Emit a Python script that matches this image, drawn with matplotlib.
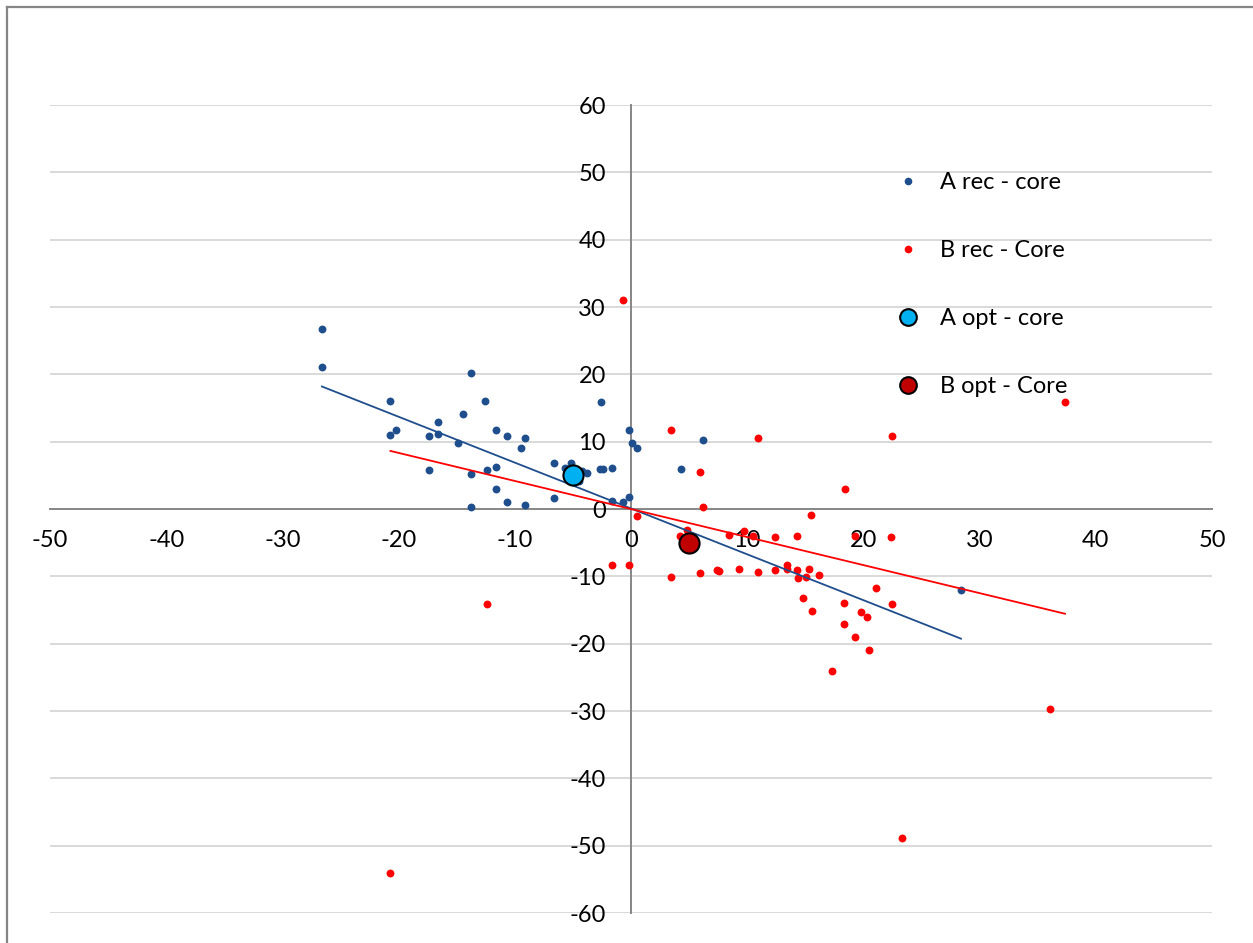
import numpy as np
import matplotlib
matplotlib.use("Agg")
import matplotlib.pyplot as plt
from matplotlib.lines import Line2D

# ---- data ----
a_rec_x = [-26.6, -26.6, -13.8, -20.7, -12.6, -2.6, -14.5, -16.6, -20.2, -20.7,
           -17.4, -16.6, -11.6, -10.7, -9.1, -14.9, -9.5, -0.2, 0.1, 0.5,
           -17.4, -13.8, -12.4, -11.6, -6.6, -5.7, -5.2, -4.25, -3.8, -2.65,
           -2.4, -1.6, -11.6, -6.6, -10.7, -9.1, -13.8, -1.6, -0.7, -0.2,
           6.2, 4.3, 28.4, -4.5, -5.5]
a_rec_y = [26.7, 21.1, 20.2, 16.0, 16.0, 15.9, 14.1, 12.9, 11.8, 11.0,
           10.8, 11.1, 11.7, 10.9, 10.5, 9.85, 9.06, 11.7, 9.85, 9.06,
           5.8, 5.2, 5.8, 6.2, 6.8, 6.1, 6.8, 5.7, 5.3, 5.9,
           5.9, 6.1, 2.9, 1.7, 1.0, 0.55, 0.25, 1.2, 1.1, 1.8,
           10.25, 5.9, -12.1, 4.1, 5.6]

b_rec_x = [-0.7, 3.4, 10.9, 22.5, 5.9, 18.4, 6.2, 0.5, 15.5, 4.8,
           4.2, 8.4, 9.75, 10.5, 12.4, 14.3, 19.3, 22.35, -1.6, -0.2,
           3.4, 5.9, 7.4, 7.6, 9.3, 10.9, 12.4, 13.4, 13.4, 14.3,
           15.35, 16.2, 14.4, 15.06, 14.8, 15.6, 18.36, 21.1, 19.8, 20.3,
           22.5, 18.36, 19.3, 20.45, 17.3, -12.4, -20.7, 36.1, 23.3, 37.35]
b_rec_y = [31.0, 11.7, 10.5, 10.8, 5.55, 2.95, 0.25, -1.0, -0.94, -3.1,
           -4.0, -3.9, -3.25, -3.95, -4.1, -4.0, -3.95, -4.1, -8.25, -8.25,
           -10.1, -9.45, -9.06, -9.16, -8.98, -9.4, -9.06, -8.25, -8.9, -9.06,
           -8.9, -9.8, -10.28, -10.15, -13.2, -15.15, -13.9, -11.75, -15.3, -16.1,
           -14.15, -17.1, -19.0, -21.0, -24.1, -14.1, -54.1, -29.7, -48.9, 15.9]

a_opt_x = [-5.0]
a_opt_y = [5.0]
b_opt_x = [5.0]
b_opt_y = [-5.0]

# trendline coefficients (slope, intercept)
trend_a = [-0.681, 0.08]
trend_b = [-0.4165, 0.0]

series_labels = ["A rec - core", "B rec - Core", "A opt - core", "B opt - Core"]
x_ticks = list(range(-50, 51, 10))
y_ticks = list(range(-60, 61, 10))

# ---- styling ----
C_A = "#1F4E8C"
C_B = "#FF0000"
C_AOPT = "#00B0F0"
C_BOPT = "#C00000"
GRID = "#D9D9D9"
AXIS = "#868686"
FONT = "Lato"
FS = 17

fig = plt.figure(figsize=(12.53, 9.43), dpi=100)
ax = fig.add_axes([50 / 1253, 1 - 913 / 943, (1212 - 50) / 1253, (913 - 105) / 943])
ax.set_xlim(-50, 50)
ax.set_ylim(-60, 60)

for yv in y_ticks:
    if yv != 0:
        ax.axhline(yv, color=GRID, lw=1.4, zorder=0)

for s in ["top", "right"]:
    ax.spines[s].set_visible(False)
ax.spines["left"].set_position(("data", 0))
ax.spines["bottom"].set_position(("data", 0))
for s in ["left", "bottom"]:
    ax.spines[s].set_color(AXIS)
    ax.spines[s].set_linewidth(1.4)
    ax.spines[s].set_zorder(1)

ax.set_xticks(x_ticks)
ax.set_yticks(y_ticks)
ax.set_xticklabels([str(v) for v in x_ticks], fontfamily=FONT, fontsize=FS)
ax.set_yticklabels([str(v) for v in y_ticks], fontfamily=FONT, fontsize=FS)
ax.tick_params(axis="x", length=0, pad=15)
ax.tick_params(axis="y", length=0, pad=18)

ax.scatter(a_rec_x, a_rec_y, s=32, color=C_A, zorder=3, linewidths=0, label=series_labels[0])
ax.scatter(b_rec_x, b_rec_y, s=32, color=C_B, zorder=3, linewidths=0, label=series_labels[1])

# linear trendlines spanning each series' x-range
xa = np.array([min(a_rec_x), max(a_rec_x)])
xb = np.array([min(b_rec_x), max(b_rec_x)])
ax.plot(xa, np.polyval(trend_a, xa), color=C_A, lw=1.3, zorder=4)
ax.plot(xb, np.polyval(trend_b, xb), color=C_B, lw=1.3, zorder=4)

ax.scatter(a_opt_x, a_opt_y, s=210, color=C_AOPT, edgecolors="black", linewidths=1.5, zorder=5,
           label=series_labels[2])
ax.scatter(b_opt_x, b_opt_y, s=210, color=C_BOPT, edgecolors="black", linewidths=1.5, zorder=5,
           label=series_labels[3])

handles = [
    Line2D([], [], marker="o", ls="none", color=C_A, markersize=5.5, markeredgewidth=0),
    Line2D([], [], marker="o", ls="none", color=C_B, markersize=5.5, markeredgewidth=0),
    Line2D([], [], marker="o", ls="none", markerfacecolor=C_AOPT, markeredgecolor="black",
           markersize=12, markeredgewidth=1.5),
    Line2D([], [], marker="o", ls="none", markerfacecolor=C_BOPT, markeredgecolor="black",
           markersize=12, markeredgewidth=1.5),
]
leg = fig.legend(handles, series_labels, loc="upper left", bbox_to_anchor=(890 / 1253, 1 - 172 / 943),
                 frameon=False, prop={"family": FONT, "size": FS}, labelspacing=1.99,
                 handletextpad=0.6, handlelength=1.5, borderaxespad=0, borderpad=0)

# outer chart border (top and left edges visible)
fig.add_artist(Line2D([6.5 / 1253, 1.0], [1 - 6.5 / 943, 1 - 6.5 / 943], transform=fig.transFigure,
                      color=AXIS, lw=1.6))
fig.add_artist(Line2D([6.5 / 1253, 6.5 / 1253], [0.0, 1 - 6.5 / 943], transform=fig.transFigure,
                      color=AXIS, lw=1.6))

fig.savefig("out.png", dpi=100)
